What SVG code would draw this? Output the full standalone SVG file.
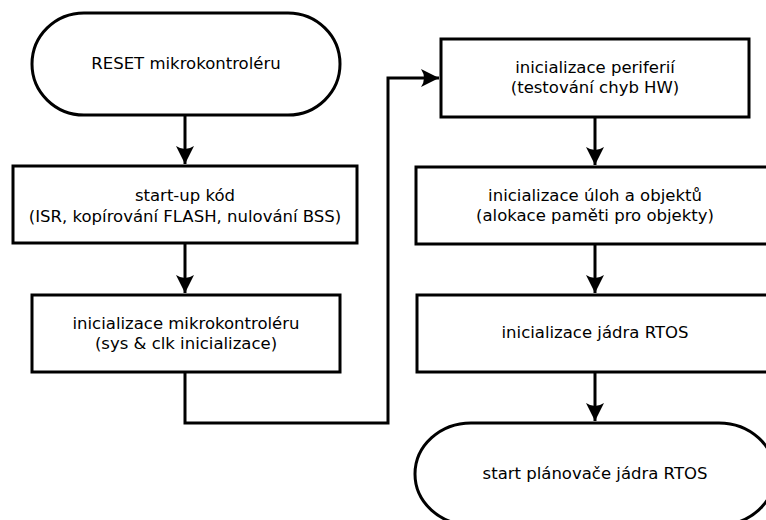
<svg xmlns="http://www.w3.org/2000/svg" width="766" height="520" viewBox="0 0 766 520">
  <defs>
    <marker id="arrow" markerUnits="userSpaceOnUse" markerWidth="24" markerHeight="24" viewBox="-20 -12 24 24" refX="0" refY="0" orient="auto" overflow="visible">
      <path d="M0,0 L-18,-9 Q-12,0 -18,9 Z" fill="#000"/>
    </marker>
    <style>
      .box { fill: #fff; stroke: #000; stroke-width: 3; }
      .wire { fill: none; stroke: #000; stroke-width: 3; }
      .lbl { font-family: "DejaVu Sans", "Liberation Sans", sans-serif; font-size: 16.5px; fill: #000; text-anchor: middle; }
    </style>
  </defs>
  <rect width="766" height="520" fill="#fff"/>

  <!-- connectors -->
  <g id="connectors">
    <path class="wire" d="M185,116 V164" marker-end="url(#arrow)"/>
    <path class="wire" d="M185,243 V293" marker-end="url(#arrow)"/>
    <path class="wire" d="M185,372 V423 H388 V78 H439" marker-end="url(#arrow)"/>
    <path class="wire" d="M595,117 V165" marker-end="url(#arrow)"/>
    <path class="wire" d="M595,244 V293" marker-end="url(#arrow)"/>
    <path class="wire" d="M595,372 V421" marker-end="url(#arrow)"/>
  </g>

  <!-- left column -->
  <g id="reset">
    <rect class="box" x="32" y="13" width="308" height="102" rx="52" ry="51"/>
    <text class="lbl" x="186" y="69">RESET mikrokontroléru</text>
  </g>
  <g id="startup">
    <rect class="box" x="13" y="166" width="344" height="77"/>
    <text class="lbl" x="185" y="201">start-up kód</text>
    <text class="lbl" x="185" y="222">(ISR, kopírování FLASH, nulování BSS)</text>
  </g>
  <g id="init-mcu">
    <rect class="box" x="32" y="295" width="308" height="77"/>
    <text class="lbl" x="186" y="329">inicializace mikrokontroléru</text>
    <text class="lbl" x="186" y="349">(sys &amp; clk inicializace)</text>
  </g>

  <!-- right column -->
  <g id="init-periph">
    <rect class="box" x="441" y="39" width="308" height="78"/>
    <text class="lbl" x="595" y="73">inicializace periferií</text>
    <text class="lbl" x="595" y="93">(testování chyb HW)</text>
  </g>
  <g id="init-tasks">
    <rect class="box" x="416" y="167" width="358" height="77"/>
    <text class="lbl" x="595" y="201">inicializace úloh a objektů</text>
    <text class="lbl" x="595" y="221">(alokace paměti pro objekty)</text>
  </g>
  <g id="init-kernel">
    <rect class="box" x="417" y="295" width="356" height="77"/>
    <text class="lbl" x="595" y="338">inicializace jádra RTOS</text>
  </g>
  <g id="start-scheduler">
    <rect class="box" x="415" y="423" width="360" height="102" rx="56" ry="51"/>
    <text class="lbl" x="595" y="479">start plánovače jádra RTOS</text>
  </g>
</svg>
